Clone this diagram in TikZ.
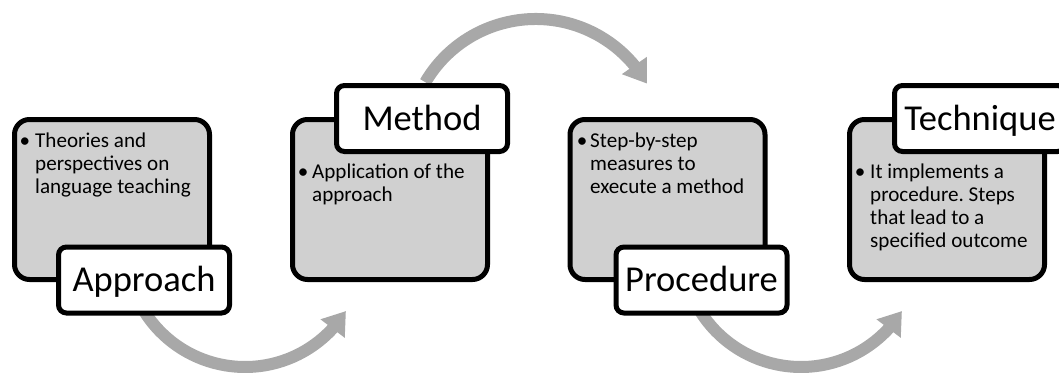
\documentclass[tikz,border=0pt]{standalone}
\usepackage{fontspec}
\setmainfont{Carlito}
\usetikzlibrary{arrows.meta,bending,calc}
\definecolor{panelgray}{RGB}{208,208,208}
\definecolor{arcgray}{RGB}{168,168,168}
\frenchspacing
% stacked lines whose baseline is that of the first line
\newcommand\itemlines[1]{\vtop{\baselineskip=23pt #1}}
\begin{document}
\begin{tikzpicture}[x=1pt,y=1pt,
  panel/.style={draw=black, line width=5pt, fill=panelgray, rounded corners=15pt,
    minimum width=195pt, minimum height=160pt, inner sep=0pt},
  tag/.style={draw=black, line width=5pt, fill=white, rounded corners=8pt,
    minimum width=171pt, minimum height=66pt, inner sep=0pt,
    font=\fontsize{36.5}{40}\selectfont, text height=23.5pt, text depth=0pt},
  body/.style={anchor=base west, inner sep=0pt, font=\fontsize{21.1}{23}\selectfont},
  dot/.style={anchor=base, inner sep=0pt, font=\fontsize{21.1}{23}\selectfont},
  flow/.style={draw=arcgray, line width=12pt, -{Triangle[length=22pt,width=29pt]}}]
\useasboundingbox (0,0) rectangle (1059,376);

% centres of the curved arrows
\coordinate (hubA) at (245,128);
\coordinate (hubB) at (535.7,229);
\coordinate (hubC) at (801,128);

% curved arrows between the stages
\draw[flow] ($(hubA)+(212.6:119pt)$) arc[start angle=212.6, end angle=328, radius=119pt];
\draw[flow] ($(hubB)+(149.6:128pt)$) arc[start angle=149.6, end angle=29.7, radius=128pt];
\draw[flow] ($(hubC)+(212.6:119pt)$) arc[start angle=212.6, end angle=328, radius=119pt];

% description panels
\node[panel] (p1) at (112,176.5) {};
\node[panel] (p2) at (390,176.5) {};
\node[panel] (p3) at (667.5,176.5) {};
\node[panel] (p4) at (947,176.5) {};

% descriptions
\node[dot] (b1) at (25,229) {•};
\node[body] (t1) at (35,229) {\itemlines{\hbox{Theories and}\hbox{perspectives on}\hbox{language teaching}}};
\node[dot] (b2) at (303,198) {•};
\node[body] (t2) at (312,198) {\itemlines{\hbox{Application of the}\hbox{approach}}};
\node[dot] (b3) at (582,229) {•};
\node[body] (t3) at (590,229) {\itemlines{\hbox{Step-by-step}\hbox{measures to}\hbox{execute a method}}};
\node[dot] (b4) at (860,198) {•};
\node[body] (t4) at (870,198) {\itemlines{\hbox{It implements a}\hbox{procedure. Steps}\hbox{that lead to a}\hbox{specified outcome}}};

% stage titles
\node[tag] (approach) at (144,96) {Approach};
\node[tag] (method) at (422,257.5) {Method};
\node[tag] (procedure) at (701.5,96) {Procedure};
\node[tag] (technique) at (980,257.5) {Technique};
\end{tikzpicture}
\end{document}
